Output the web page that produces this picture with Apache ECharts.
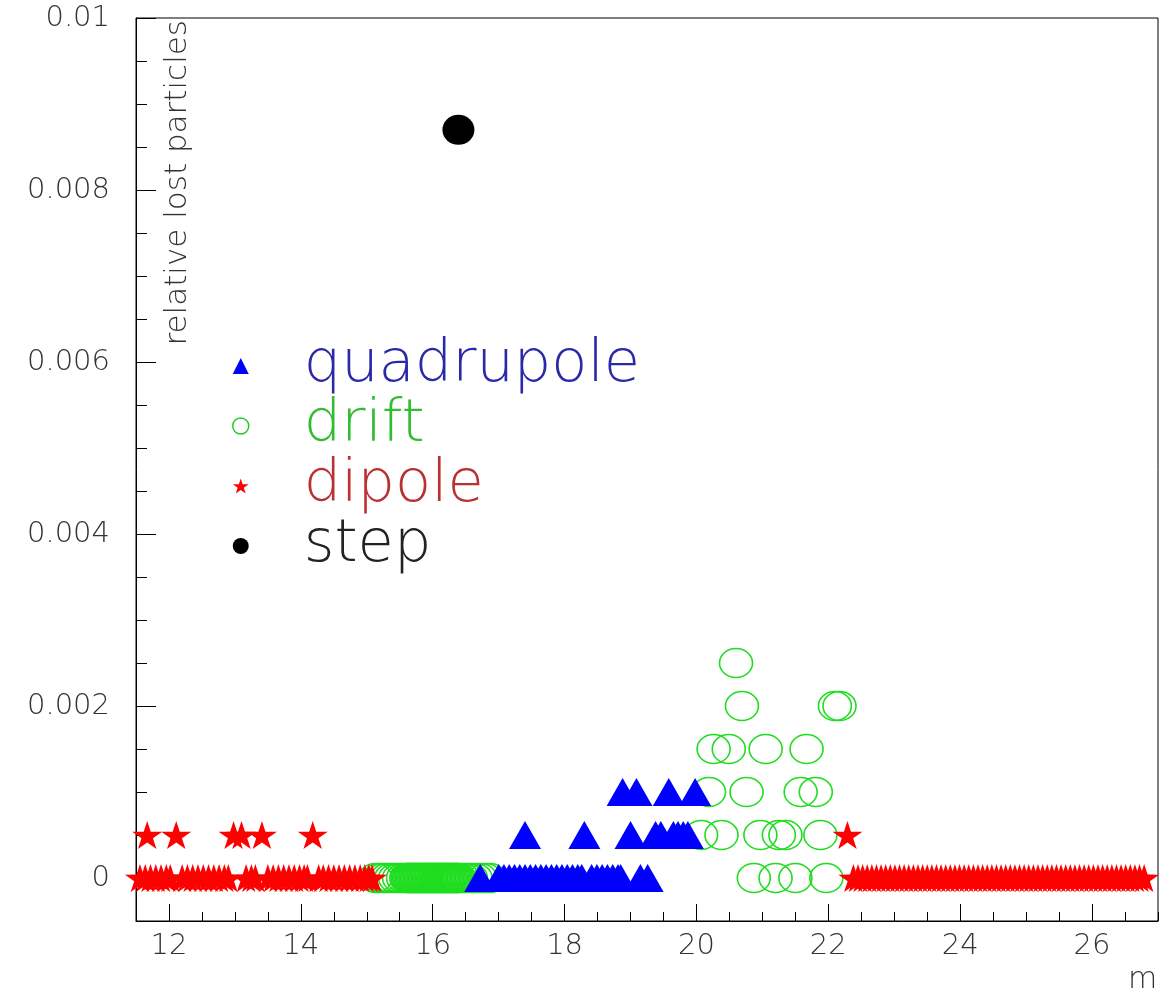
<!DOCTYPE html>
<html>
<head>
<meta charset="utf-8">
<script src="https://cdn.jsdelivr.net/npm/echarts@6/dist/echarts.min.js"></script>
<style>html,body{margin:0;padding:0;background:#fff}#c{width:1164px;height:995px}</style>
</head>
<body>
<div id="c"></div>
<script>
// ---- data (position s in m, relative lost particles) ----
const xTickLabels = [12, 14, 16, 18, 20, 22, 24, 26];
const yTickLabels = [0, 0.002, 0.004, 0.006, 0.008, 0.01];

const quadrupoleS_0 = [16.72, 17.00, 17.08, 17.16, 17.24, 17.32, 17.40, 17.48, 17.56, 17.64, 17.72, 17.80, 17.88, 17.96, 18.04, 18.12, 18.20, 18.26, 18.41, 18.49, 18.57, 18.65, 18.73, 18.81, 18.85, 19.15, 19.26];
const quadrupoleS_0005 = [17.40, 18.30, 19.00, 19.38, 19.46, 19.65, 19.72, 19.80, 19.87];
const quadrupoleS_001 = [18.88, 19.09, 19.58, 19.98];

const driftS_0 = [15.13, 15.19, 15.25, 15.31, 15.37, 15.43, 15.49, 15.55,
  15.60, 15.62, 15.64, 15.66, 15.68, 15.70, 15.72, 15.74, 15.76, 15.78,
  15.80, 15.82, 15.84, 15.86, 15.88, 15.90, 15.92, 15.94, 15.96, 15.98,
  16.00, 16.02, 16.04, 16.06, 16.08, 16.10, 16.12, 16.14, 16.16, 16.18,
  16.20, 16.22, 16.24, 16.26, 16.28, 16.30, 16.32, 16.34, 16.36, 16.38, 16.40,
  16.46, 16.52, 16.58, 16.65, 16.72, 16.80, 16.87,
  20.87, 21.20, 21.50, 21.97];
const driftS_0005 = [20.07, 20.38, 20.97, 21.25, 21.35, 21.88];
const driftS_001 = [20.19, 20.76, 21.58, 21.81];
const driftS_0015 = [20.26, 20.49, 21.05, 21.67];
const driftS_002 = [20.69, 22.10, 22.17];
const driftS_0025 = [20.60];

const dipoleS_0 = [11.56, 11.64, 11.72, 11.80, 11.88, 11.96, 12.02, 12.20, 12.28, 12.36, 12.44, 12.52, 12.60, 12.68, 12.76, 12.84, 12.90,
  13.17, 13.25, 13.31, 13.50, 13.58, 13.66, 13.74, 13.82, 13.90, 13.98, 14.05, 14.10,
  14.27, 14.34, 14.42, 14.50, 14.58, 14.66, 14.74, 14.82, 14.90, 14.97, 15.03, 15.08,
  22.38, 22.45, 22.52, 22.59, 22.66, 22.73, 22.80, 22.87, 22.94, 23.01, 23.08, 23.15, 23.22, 23.29, 23.36, 23.43,
  23.50, 23.57, 23.64, 23.71, 23.78, 23.85, 23.92, 23.99, 24.06, 24.13, 24.20, 24.27, 24.34, 24.41, 24.48,
  24.55, 24.62, 24.69, 24.76, 24.83, 24.90, 24.97, 25.04, 25.11, 25.18, 25.25, 25.32, 25.39, 25.46, 25.53,
  25.60, 25.67, 25.74, 25.81, 25.88, 25.95, 26.02, 26.09, 26.16, 26.23, 26.30, 26.37, 26.44, 26.51, 26.58,
  26.65, 26.72, 26.79];
const dipoleS_0005 = [11.67, 12.11, 12.98, 13.10, 13.41, 14.18, 22.29];

const stepS = [16.39];
const stepLoss = [0.0087];

// ---- build ----
function rows(list) {
  const out = [];
  list.forEach(([xs, y]) => xs.forEach(x => out.push([x, y])));
  return out;
}
const quadrupoleData = rows([[quadrupoleS_0, 0], [quadrupoleS_0005, 0.0005], [quadrupoleS_001, 0.001]]);
const driftData = rows([[driftS_0, 0], [driftS_0005, 0.0005], [driftS_001, 0.001], [driftS_0015, 0.0015], [driftS_002, 0.002], [driftS_0025, 0.0025]]);
const dipoleData = rows([[dipoleS_0, 0], [dipoleS_0005, 0.0005]]);
const stepData = stepS.map((s, i) => [s, stepLoss[i]]);

const STAR = 'path://M0,-100L22.45,-30.9L95.1,-30.9L36.3,11.8L58.8,80.9L0,38.2L-58.8,80.9L-36.3,11.8L-95.1,-30.9L-22.45,-30.9Z';
const FONT = 'DejaVu Sans';
const TXT = '#333';

const chart = echarts.init(document.getElementById('c'), null, {renderer: 'canvas'});
chart.setOption({
  animation: false,
  backgroundColor: '#fff',
  textStyle: {fontFamily: FONT},
  grid: {left: 136, right: 6, top: 18, bottom: 71, show: true, borderColor: '#000', borderWidth: 1, backgroundColor: 'transparent'},
  legend: {
    orient: 'vertical', left: 227, top: 331,
    itemWidth: 16, itemHeight: 16, itemGap: 0,
    textStyle: {fontSize: 59, lineHeight: 60, fontFamily: FONT, fontWeight: 200, padding: [0, 0, 0, 50]},
    selectedMode: false,
    data: [
      {name: 'quadrupole', textStyle: {color: '#2a2aa8'}},
      {name: 'drift', textStyle: {color: '#33bb33'}, itemStyle: {color: 'rgba(0,0,0,0)', borderColor: '#22cc22', borderWidth: 1.5}},
      {name: 'dipole', textStyle: {color: '#bb3030'}},
      {name: 'step', textStyle: {color: '#222'}}
    ]
  },
  xAxis: [
    {
      type: 'value', min: 11.5, max: 27, interval: 0.5, position: 'bottom',
      axisLine: {show: true, onZero: false, lineStyle: {color: '#000', width: 1}},
      axisTick: {show: true, inside: true, length: 9, lineStyle: {color: '#000'}},
      axisLabel: {customValues: xTickLabels, margin: 11, fontSize: 29, color: TXT, fontFamily: FONT, fontWeight: 200},
      splitLine: {show: false},
      name: 'm', nameLocation: 'end', nameGap: -30,
      nameTextStyle: {fontSize: 30, color: TXT, fontFamily: FONT, fontWeight: 200, verticalAlign: 'top', padding: [44, 0, 0, 0]}
    },
    {
      type: 'value', min: 11.5, max: 27, position: 'bottom',
      axisLine: {show: false, onZero: false},
      axisTick: {show: true, inside: true, length: 17, customValues: xTickLabels, lineStyle: {color: '#000'}},
      axisLabel: {show: false},
      splitLine: {show: false}
    }
  ],
  yAxis: [
    {
      type: 'value', min: -0.0005, max: 0.01, interval: 0.0005, position: 'left',
      axisLine: {show: true, onZero: false, lineStyle: {color: '#000', width: 1}},
      axisTick: {show: true, inside: true, length: 11, lineStyle: {color: '#000'}},
      axisLabel: {customValues: yTickLabels, margin: 26, fontSize: 29, color: TXT, fontFamily: FONT, fontWeight: 200,
        formatter: v => String(v)},
      splitLine: {show: false}
    },
    {
      type: 'value', min: -0.0005, max: 0.01, position: 'left',
      axisLine: {show: false, onZero: false},
      axisTick: {show: true, inside: true, length: 20, customValues: yTickLabels, lineStyle: {color: '#000'}},
      axisLabel: {show: false},
      splitLine: {show: false}
    }
  ],
  graphic: [
    {type: 'text', x: 178, y: 20, rotation: Math.PI / 2, z: 10,
     style: {text: 'relative lost particles', fontSize: 31, fontFamily: FONT, fontWeight: 200, fill: TXT, align: 'right', verticalAlign: 'middle'}}
  ],
  series: [
    {name: 'drift', type: 'scatter', data: driftData, symbol: 'circle', symbolSize: [33, 29], z: 2,
     itemStyle: {color: 'rgba(0,0,0,0)', borderColor: '#1fdd1f', borderWidth: 1.5, opacity: 1}},
    {name: 'quadrupole', type: 'scatter', data: quadrupoleData, symbol: 'triangle', symbolSize: [32, 28], z: 3,
     itemStyle: {color: '#0000ff', opacity: 1}},
    {name: 'dipole', type: 'scatter', data: dipoleData, symbol: STAR, symbolSize: [30, 28], z: 4,
     itemStyle: {color: '#ff0000', opacity: 1}},
    {name: 'step', type: 'scatter', data: stepData, symbol: 'circle', symbolSize: [32, 30], z: 5,
     itemStyle: {color: '#000', opacity: 1}}
  ]
});
</script>
</body>
</html>
